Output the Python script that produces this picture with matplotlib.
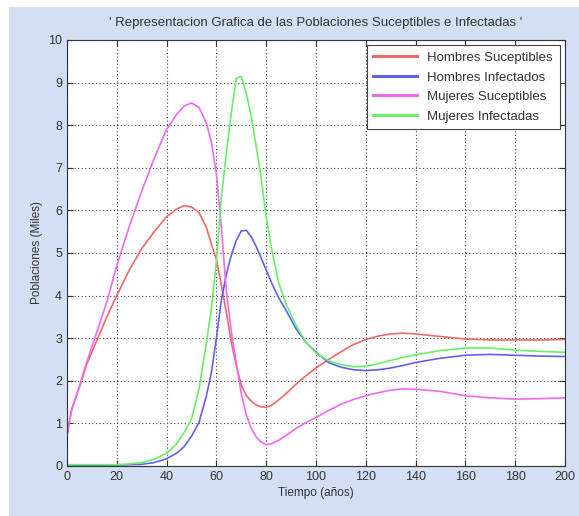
import matplotlib.pyplot as plt
from matplotlib.patches import Rectangle

plt.rcParams['font.family'] = ['Liberation Sans', 'DejaVu Sans']

# tiempo (años)
t = [0, 1, 2, 5, 8, 12, 16, 20, 25, 30, 35, 40, 44, 47, 50, 53, 56, 58, 60,
     62, 64, 66, 68, 70, 72, 74, 76, 78, 80, 82, 85, 88, 92, 96, 100, 105,
     110, 115, 120, 125, 130, 135, 140, 150, 160, 170, 180, 190, 200]

hombres_sus = [0.70, 1.05, 1.35, 1.85, 2.40, 2.95, 3.50, 4.00, 4.60, 5.10,
               5.50, 5.85, 6.03, 6.11, 6.08, 5.95, 5.60, 5.20, 4.85, 4.25,
               3.60, 2.90, 2.35, 1.90, 1.65, 1.52, 1.43, 1.39, 1.38, 1.42,
               1.55, 1.70, 1.92, 2.12, 2.30, 2.50, 2.68, 2.85, 2.97, 3.05,
               3.10, 3.12, 3.10, 3.04, 2.98, 2.96, 2.96, 2.96, 2.97]

hombres_inf = [0.02, 0.02, 0.02, 0.02, 0.02, 0.02, 0.02, 0.02, 0.03, 0.04,
               0.08, 0.17, 0.30, 0.45, 0.70, 1.02, 1.65, 2.20, 3.00, 3.90,
               4.50, 4.95, 5.30, 5.52, 5.53, 5.38, 5.15, 4.88, 4.60, 4.32,
               3.95, 3.65, 3.22, 2.90, 2.67, 2.43, 2.32, 2.26, 2.24, 2.26,
               2.30, 2.36, 2.43, 2.53, 2.60, 2.62, 2.60, 2.58, 2.57]

mujeres_sus = [0.70, 1.05, 1.35, 1.88, 2.45, 3.15, 3.85, 4.70, 5.62, 6.45,
               7.22, 7.90, 8.25, 8.45, 8.52, 8.42, 8.05, 7.60, 6.85, 5.60,
               4.10, 3.15, 2.40, 1.70, 1.20, 0.88, 0.68, 0.56, 0.50, 0.52,
               0.60, 0.72, 0.88, 1.02, 1.14, 1.30, 1.45, 1.56, 1.65, 1.72,
               1.78, 1.81, 1.80, 1.75, 1.65, 1.60, 1.57, 1.58, 1.60]

mujeres_inf = [0.03, 0.03, 0.03, 0.03, 0.03, 0.03, 0.03, 0.03, 0.05, 0.08,
               0.16, 0.30, 0.52, 0.78, 1.10, 1.80, 2.90, 3.70, 4.80, 6.30,
               7.35, 8.30, 9.10, 9.15, 8.75, 8.20, 7.50, 6.75, 5.85, 5.15,
               4.30, 3.80, 3.30, 2.90, 2.65, 2.47, 2.38, 2.33, 2.34, 2.40,
               2.48, 2.55, 2.61, 2.71, 2.77, 2.77, 2.72, 2.69, 2.67]

fig = plt.figure(figsize=(5.79, 5.16), dpi=100, facecolor='white')
# fondo azul claro de la ventana
fig.patches.append(Rectangle((9 / 579, 0), 1, (516 - 7) / 516,
                             transform=fig.transFigure, facecolor='#d3dff2',
                             edgecolor='none', zorder=-1))

ax = fig.add_axes([67 / 579, 50 / 516, 498 / 579, 426 / 516])
ax.plot(t, hombres_sus, color='#f26868', lw=1.2, label='Hombres Suceptibles')
ax.plot(t, hombres_inf, color='#6060f0', lw=1.2, label='Hombres Infectados')
ax.plot(t, mujeres_sus, color='#f268f2', lw=1.2, label='Mujeres Suceptibles')
ax.plot(t, mujeres_inf, color='#68f068', lw=1.2, label='Mujeres Infectadas')

ax.set_xlim(0, 200)
ax.set_ylim(0, 10)
ax.set_xticks(range(0, 201, 20))
ax.set_yticks(range(0, 11))
ax.grid(True, color='#444444', linestyle=(0, (1, 2.2)), linewidth=0.8)
ax.tick_params(direction='in', top=True, right=True, length=4,
               labelsize=9, labelcolor='#333333', color='#333333')
for s in ax.spines.values():
    s.set_color('#333333')

ax.set_title("' Representacion Grafica de las Poblaciones Suceptibles e Infectadas '",
             fontsize=9.5, color='#333333', pad=10)
ax.set_xlabel('Tiempo (años)', fontsize=8.5, color='#333333', labelpad=3)
ax.set_ylabel('Poblaciones (Miles)', fontsize=8.5, color='#333333', labelpad=4)

leg = ax.legend(loc='upper right', fontsize=9.5, fancybox=False,
                framealpha=1, edgecolor='#444444', handlelength=3.3,
                borderaxespad=0.4, labelspacing=0.55, borderpad=0.5)
leg.get_frame().set_linewidth(0.8)
for line in leg.get_lines():
    line.set_linewidth(2.2)
for txt in leg.get_texts():
    txt.set_color('#333333')

fig.savefig('out.png', dpi=100, facecolor=fig.get_facecolor())
